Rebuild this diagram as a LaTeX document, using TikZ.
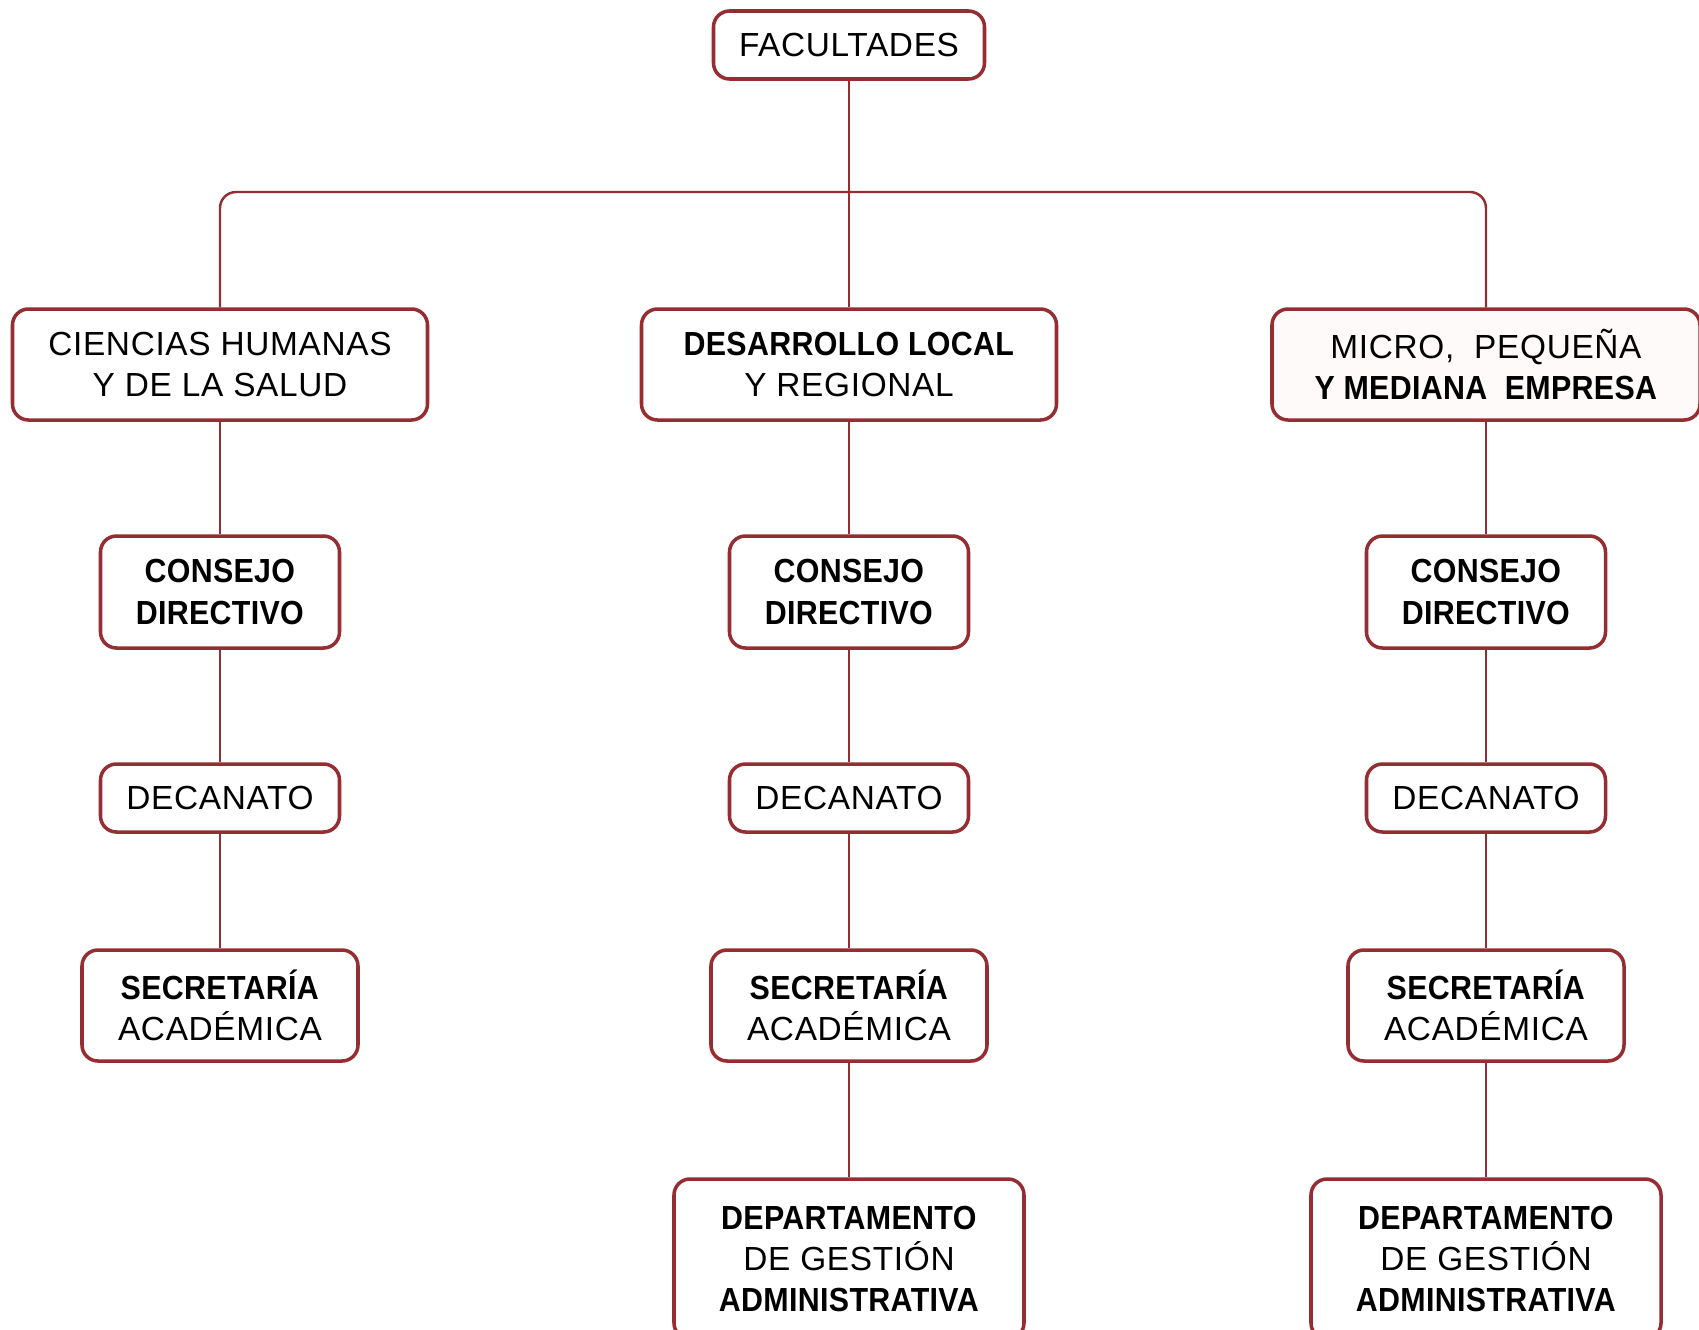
\documentclass[tikz,border=0pt]{standalone}
\usepackage{fontspec}
\setmainfont{Liberation Sans}[LetterSpace=2, BoldFeatures={FakeStretch=0.91, LetterSpace=1}]
\definecolor{boxred}{RGB}{150,45,50}

\begin{document}
\begin{tikzpicture}[
	unit/.style={draw=boxred, line width=1pt, rounded corners=0.16cm, fill=white, align=center, inner sep=2pt, font=\fontsize{9.5}{11.7}\selectfont},
	link/.style={draw=boxred, line width=0.7pt}]
\useasboundingbox (0,0) rectangle (16.99,-13.30);
	\node[unit, minimum width=2.71cm, minimum height=0.68cm] (0) at (8.49,-0.45) {FACULTADES};
\coordinate (bus) at (8.49,-1.92);
\node[unit, minimum width=4.15cm, minimum height=1.11cm] (1) at (2.2,-3.645) {CIENCIAS HUMANAS\\Y DE LA SALUD};
\node[unit, minimum width=4.15cm, minimum height=1.11cm] (2) at (8.49,-3.645) {\textbf{DESARROLLO LOCAL}\\Y REGIONAL};
\node[unit, minimum width=4.28cm, minimum height=1.11cm, fill=red!2] (3) at (14.86,-3.645) {MICRO,\ \ PEQUEÑA\\\textbf{Y MEDIANA\ \ EMPRESA}};
\node[unit, minimum width=2.39cm, minimum height=1.12cm] (4) at (2.2,-5.92) {\textbf{CONSEJO}\\\textbf{DIRECTIVO}};
\node[unit, minimum width=2.39cm, minimum height=1.12cm] (5) at (8.49,-5.92) {\textbf{CONSEJO}\\\textbf{DIRECTIVO}};
\node[unit, minimum width=2.39cm, minimum height=1.12cm] (6) at (14.86,-5.92) {\textbf{CONSEJO}\\\textbf{DIRECTIVO}};
\node[unit, minimum width=2.39cm, minimum height=0.68cm] (7) at (2.2,-7.98) {DECANATO};
\node[unit, minimum width=2.39cm, minimum height=0.68cm] (8) at (8.49,-7.98) {DECANATO};
\node[unit, minimum width=2.39cm, minimum height=0.68cm] (9) at (14.86,-7.98) {DECANATO};
\node[unit, minimum width=2.76cm, minimum height=1.11cm] (10) at (2.2,-10.055) {\textbf{SECRETARÍA}\\ACADÉMICA};
\node[unit, minimum width=2.76cm, minimum height=1.11cm] (11) at (8.49,-10.055) {\textbf{SECRETARÍA}\\ACADÉMICA};
\node[unit, minimum width=2.76cm, minimum height=1.11cm] (12) at (14.86,-10.055) {\textbf{SECRETARÍA}\\ACADÉMICA};
\node[unit, minimum width=3.5cm, minimum height=1.6cm] (13) at (8.49,-12.59) {\textbf{DEPARTAMENTO}\\DE GESTIÓN\\\textbf{ADMINISTRATIVA}};
\node[unit, minimum width=3.5cm, minimum height=1.6cm] (14) at (14.86,-12.59) {\textbf{DEPARTAMENTO}\\DE GESTIÓN\\\textbf{ADMINISTRATIVA}};
\draw [link](0)--(2);
\draw [link, rounded corners=0.16cm](1)|-(bus)-|(3);
\draw [link](1)--(4);
\draw [link](2)--(5);
\draw [link](3)--(6);
\draw [link](4)--(7);
\draw [link](5)--(8);
\draw [link](6)--(9);
\draw [link](7)--(10);
\draw [link](8)--(11);
\draw [link](9)--(12);
\draw [link](11)--(13);
\draw [link](12)--(14);
	\end{tikzpicture}
\end{document}
